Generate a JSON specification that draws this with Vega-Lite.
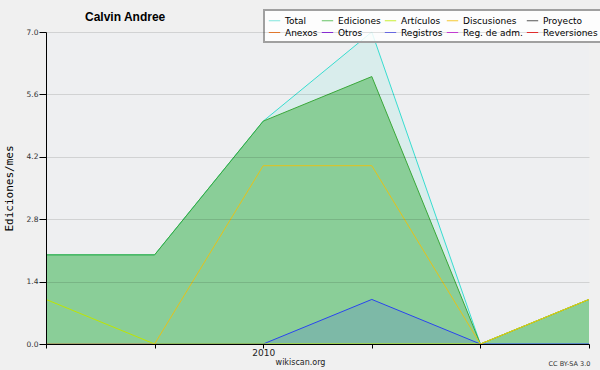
{
  "$schema": "https://vega.github.io/schema/vega-lite/v6.json",
  "width": 543,
  "height": 312,
  "autosize": "none",
  "padding": {"left": 46, "top": 32, "right": 11, "bottom": 26},
  "background": "#f0f0f0",
  "config": {
    "view": {"fill": "#eeeff1", "stroke": null},
    "font": "DejaVu Sans"
  },
  "title": {
    "text": "Calvin Andree",
    "anchor": "start",
    "frame": "group",
    "font": "Liberation Sans",
    "fontSize": 12,
    "fontWeight": "bold",
    "color": "#000000",
    "dx": 39,
    "dy": 25,
    "offset": 10
  },
  "data": {
    "values": [
      {"month": "2009-11", "series": "Total", "value": 2},
      {"month": "2009-12", "series": "Total", "value": 2},
      {"month": "2010-01", "series": "Total", "value": 5},
      {"month": "2010-02", "series": "Total", "value": 7},
      {"month": "2010-03", "series": "Total", "value": 0},
      {"month": "2010-04", "series": "Total", "value": 1},
      {"month": "2009-11", "series": "Ediciones", "value": 2},
      {"month": "2009-12", "series": "Ediciones", "value": 2},
      {"month": "2010-01", "series": "Ediciones", "value": 5},
      {"month": "2010-02", "series": "Ediciones", "value": 6},
      {"month": "2010-03", "series": "Ediciones", "value": 0},
      {"month": "2010-04", "series": "Ediciones", "value": 1},
      {"month": "2009-11", "series": "Registros", "value": 0},
      {"month": "2009-12", "series": "Registros", "value": 0},
      {"month": "2010-01", "series": "Registros", "value": 0},
      {"month": "2010-02", "series": "Registros", "value": 1},
      {"month": "2010-03", "series": "Registros", "value": 0},
      {"month": "2010-04", "series": "Registros", "value": 0},
      {"month": "2009-11", "series": "Artículos", "value": 1},
      {"month": "2009-12", "series": "Artículos", "value": 0},
      {"month": "2010-01", "series": "Artículos", "value": 0},
      {"month": "2010-02", "series": "Artículos", "value": 0},
      {"month": "2010-03", "series": "Artículos", "value": 0},
      {"month": "2010-04", "series": "Artículos", "value": 1},
      {"month": "2009-11", "series": "Discusiones", "value": 0},
      {"month": "2009-12", "series": "Discusiones", "value": 0},
      {"month": "2010-01", "series": "Discusiones", "value": 4},
      {"month": "2010-02", "series": "Discusiones", "value": 4},
      {"month": "2010-03", "series": "Discusiones", "value": 0},
      {"month": "2010-04", "series": "Discusiones", "value": 1}
    ]
  },
  "layer": [
    {
      "encoding": {
        "x": {
          "field": "month",
          "type": "ordinal",
          "scale": {"type": "point", "padding": 0},
          "axis": {
            "zindex": 1,
            "grid": false,
            "domainColor": "#000000",
            "domainWidth": 1,
            "tickColor": "#000000",
            "tickSize": 4,
            "labelAngle": 0,
            "labelExpr": "datum.value == '2010-01' ? '2010' : ''",
            "labelFont": "DejaVu Sans",
            "labelFontSize": 9,
            "labelColor": "#222222",
            "labelPadding": 0,
            "title": "wikiscan.org",
            "titleFont": "DejaVu Sans",
            "titleFontSize": 8,
            "titleFontWeight": "normal",
            "titleColor": "#222222",
            "titleX": 254,
            "titleY": 14,
            "titleAlign": "center"
          }
        },
        "y": {
          "field": "value",
          "type": "quantitative",
          "scale": {"domain": [0, 7], "nice": false, "zero": true},
          "axis": {
            "zindex": 1,
            "values": [0, 0.35, 0.7, 1.05, 1.4, 1.75, 2.1, 2.45, 2.8, 3.15, 3.5, 3.85, 4.2, 4.55, 4.9, 5.25, 5.6, 5.95, 6.3, 6.65, 7],
            "labelExpr": "round(datum.value*10) % 14 == 0 ? format(datum.value, '.1f') : ''",
            "grid": true,
            "gridColor": "#000000",
            "gridOpacity": {"condition": {"test": "round(datum.value*10) % 14 == 0", "value": 0.12}, "value": 0},
            "tickSize": {"condition": {"test": "round(datum.value*10) % 14 == 0", "value": 7}, "value": 4},
            "tickColor": "#000000",
            "domainColor": "#000000",
            "labelFont": "DejaVu Sans",
            "labelFontSize": 7.5,
            "labelColor": "#333333",
            "labelPadding": 1,
            "title": "Ediciones/mes",
            "titleFont": "DejaVu Sans Mono",
            "titleFontSize": 11,
            "titleFontWeight": "normal",
            "titleColor": "#000000",
            "titlePadding": 12
          }
        }
      },
      "layer": [
        {
          "transform": [{"filter": "datum.series == 'Total'"}],
          "mark": {"type": "area", "color": "#40e0d0", "fillOpacity": 0.12}
        },
        {
          "transform": [{"filter": "datum.series == 'Total'"}],
          "mark": {"type": "line", "color": "#38ddd0", "strokeWidth": 1}
        },
        {
          "transform": [{"filter": "datum.series == 'Ediciones'"}],
          "mark": {"type": "area", "color": "#3cb043", "fillOpacity": 0.5}
        },
        {
          "transform": [{"filter": "datum.series == 'Ediciones'"}],
          "mark": {"type": "line", "color": "#3aa83a", "strokeWidth": 1}
        },
        {
          "transform": [{"filter": "datum.series == 'Registros'"}],
          "mark": {"type": "area", "color": "#3344ff", "fillOpacity": 0.15}
        },
        {
          "transform": [{"filter": "datum.series == 'Registros'"}],
          "mark": {"type": "line", "color": "#2a44f0", "strokeWidth": 1}
        },
        {
          "transform": [{"filter": "datum.series == 'Artículos'"}],
          "mark": {"type": "line", "color": "#bfe600", "strokeWidth": 1}
        },
        {
          "transform": [{"filter": "datum.series == 'Discusiones'"}],
          "mark": {"type": "line", "color": "#e5c21a", "strokeWidth": 1}
        }
      ]
    },
    {
      "transform": [{"filter": "false"}],
      "mark": {"type": "line"},
      "encoding": {
        "x": {
          "field": "month",
          "type": "ordinal",
          "scale": {"type": "point", "padding": 0},
          "axis": {
            "orient": "bottom",
            "domain": false,
            "ticks": false,
            "labels": false,
            "grid": false,
            "title": "CC BY-SA 3.0",
            "titleFont": "DejaVu Sans",
            "titleFontSize": 6.5,
            "titleFontWeight": "normal",
            "titleColor": "#333333",
            "titleX": 523,
            "titleY": 16,
            "titleAlign": "center"
          }
        },
        "y": {
          "field": "value",
          "type": "quantitative",
          "scale": {"domain": [0, 7], "nice": false, "zero": true}
        },
        "color": {
          "field": "series",
          "type": "nominal",
          "scale": {
            "domain": ["Total", "Ediciones", "Artículos", "Discusiones", "Proyecto", "Anexos", "Otros", "Registros", "Reg. de adm.", "Reversiones"],
            "range": ["#7fe5dc", "#66c266", "#c8ee33", "#f5c832", "#555555", "#ff8833", "#9933ee", "#7777ff", "#dd44ee", "#ff3333"]
          },
          "legend": {
            "orient": "none",
            "direction": "horizontal",
            "legendX": 218,
            "legendY": -22,
            "columns": 5,
            "title": null,
            "symbolType": "stroke",
            "symbolSize": 130,
            "symbolStrokeWidth": 1,
            "labelFont": "DejaVu Sans",
            "labelFontSize": 9,
            "labelColor": "#000000",
            "labelOffset": 4,
            "columnPadding": 1,
            "rowPadding": -1,
            "padding": 4,
            "fillColor": "rgba(255,255,255,0.85)",
            "strokeColor": "#a0a0a0",
            "encode": {"legend": {"update": {"strokeWidth": {"value": 2}}}}
          }
        }
      }
    }
  ],
  "resolve": {"axis": {"x": "independent", "y": "shared"}}
}
